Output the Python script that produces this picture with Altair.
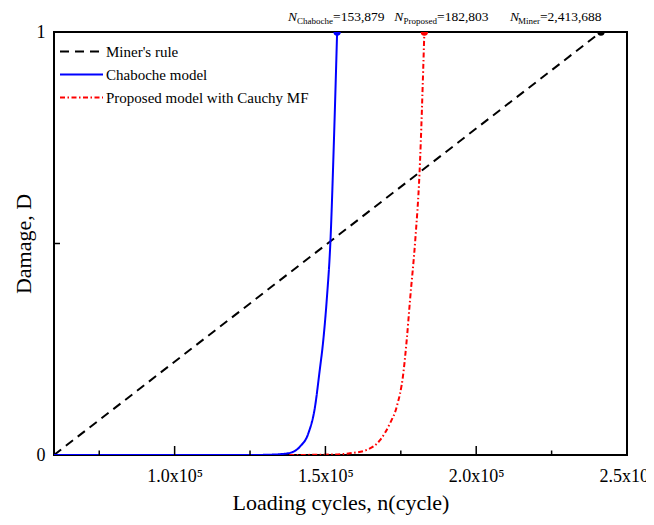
import altair as alt
import pandas as pd

# ---------------- data ----------------
x_domain = [60000, 250000]
series_names = ["Miner's rule", "Chaboche model", "Proposed model with Cauchy MF"]
series_colors = ["#000000", "#0000ff", "#ff0000"]
series_dash = [[9, 6], [1, 0], [5, 2.5, 1.5, 2.5]]

miner_n = [60000, 241368.8]
miner_d = [0.0, 1.0]

chaboche_n = [60000, 125000, 132600, 135000, 138260, 141570, 144330, 146550,
              147980, 149300, 150430, 151690, 152850, 153879]
chaboche_d = [0.0, 0.0, 0.001, 0.002, 0.005, 0.02, 0.051, 0.114,
              0.193, 0.272, 0.366, 0.51, 0.75, 1.0]

proposed_n = [138000, 151520, 158150, 163690, 168100, 171420, 173640,
              175830, 176960, 178050, 179810, 181200, 182803]
proposed_d = [0.0, 0.001, 0.004, 0.012, 0.035, 0.075, 0.114,
              0.193, 0.272, 0.366, 0.51, 0.666, 1.0]

fail_n = [241368.8, 153879, 182803]
fail_names = ["Miner's rule", "Chaboche model", "Proposed model with Cauchy MF"]
ann_sub = ["Miner", "Chaboche", "Proposed"]
ann_val = ["=2,413,688", "=153,879", "=182,803"]

x_label_ticks = [100000, 150000, 200000, 250000]
x_major_ticks = [100000, 150000, 200000]
x_minor_ticks = [75000, 125000, 175000, 225000]
y_label_ticks = [0, 1]
y_inner_ticks = [0.5]

X_TITLE = "Loading cycles, n(cycle)"
Y_TITLE = "Damage, D"

# ---------------- build tables ----------------
rows = []
for name, ns, ds in [(series_names[0], miner_n, miner_d),
                     (series_names[1], chaboche_n, chaboche_d),
                     (series_names[2], proposed_n, proposed_d)]:
    for i, (n, d) in enumerate(zip(ns, ds)):
        rows.append({"n": n, "D": d, "series": name, "idx": i})
df = pd.DataFrame(rows)
dots = pd.DataFrame({"n": fail_n, "D": [1.0] * 3, "series": fail_names})

W, H = 573, 423
FONT = "Liberation Serif"

xscale = alt.Scale(domain=x_domain, nice=False, zero=False)
yscale = alt.Scale(domain=[0, 1], nice=False, zero=False)

legend = alt.Legend(title=None, orient="none", legendX=5, legendY=9,
                    symbolType="stroke", symbolSize=1849, symbolStrokeWidth=2,
                    clipHeight=21, rowPadding=2,
                    labelFont=FONT, labelFontSize=15, labelColor="black",
                    labelOffset=2, labelLimit=400, padding=0)

lines = alt.Chart(df).mark_line(strokeWidth=2, clip=True, interpolate="monotone").encode(
    x=alt.X("n:Q", scale=xscale, title=X_TITLE,
            axis=alt.Axis(values=x_label_ticks,
                          labelExpr="format(datum.value/100000, '.1f') + 'x10⁵'")),
    y=alt.Y("D:Q", scale=yscale, title=Y_TITLE,
            axis=alt.Axis(values=y_label_ticks, format="d")),
    color=alt.Color("series:N",
                    scale=alt.Scale(domain=series_names, range=series_colors),
                    legend=legend),
    strokeDash=alt.StrokeDash("series:N",
                              scale=alt.Scale(domain=series_names, range=series_dash),
                              legend=legend),
    order="idx:Q",
)

points = alt.Chart(dots).mark_circle(size=55, opacity=1, clip=True).encode(
    x=alt.X("n:Q", scale=xscale, title=X_TITLE),
    y=alt.Y("D:Q", scale=yscale, title=Y_TITLE),
    color=alt.Color("series:N", scale=alt.Scale(domain=series_names, range=series_colors),
                    legend=legend),
)

major = alt.Chart(pd.DataFrame({"t": x_major_ticks})).mark_rule(
    color="black", strokeWidth=1.5).encode(
    x=alt.X("t:Q", scale=xscale, title=X_TITLE), y=alt.value(H), y2=alt.value(H - 9))
minor = alt.Chart(pd.DataFrame({"t": x_minor_ticks})).mark_rule(
    color="black", strokeWidth=1.5).encode(
    x=alt.X("t:Q", scale=xscale, title=X_TITLE), y=alt.value(H), y2=alt.value(H - 4.5))
ytick = alt.Chart(pd.DataFrame({"t": y_inner_ticks})).mark_rule(
    color="black", strokeWidth=1.5).encode(
    y=alt.Y("t:Q", scale=yscale, title=Y_TITLE), x=alt.value(0), x2=alt.value(6))

# annotation pieces: (value dx, N right-edge dx)
ann_offsets = {"Miner": (-61, -82), "Chaboche": (-4, -40), "Proposed": (12.7, -21)}
ann_layers = []
for n, sub, val in zip(fail_n, ann_sub, ann_val):
    dv, dn = ann_offsets[sub]
    base = alt.Chart(pd.DataFrame({"n": [n]}))
    xe = alt.X("n:Q", scale=xscale, title=X_TITLE)
    ann_layers.append(base.mark_text(align="left", baseline="alphabetic", dx=dv,
                                     font=FONT, fontSize=13.5, color="black").encode(
        x=xe, y=alt.value(-11), text=alt.value(val)))
    ann_layers.append(base.mark_text(align="right", baseline="alphabetic", dx=dv,
                                     font=FONT, fontSize=9, color="black").encode(
        x=xe, y=alt.value(-8), text=alt.value(sub)))
    ann_layers.append(base.mark_text(align="right", baseline="alphabetic", dx=dn,
                                     font=FONT, fontSize=13.5, fontStyle="italic",
                                     color="black").encode(
        x=xe, y=alt.value(-11), text=alt.value("N")))

chart = alt.layer(lines, points, major, minor, ytick, *ann_layers).properties(
    width=W, height=H,
    autosize=alt.AutoSizeParams(type="none"),
    padding={"left": 46, "top": 24, "right": 19, "bottom": 62},
).configure(background="white", font=FONT).configure_view(
    stroke="black", strokeWidth=2
).configure_axis(
    ticks=False, domain=False, grid=False, labelFont=FONT, labelFontSize=18,
    labelColor="black", labelFlush=False, titleFont=FONT, titleFontSize=22,
    titleFontWeight="normal", titleColor="black"
).configure_axisX(labelPadding=12, titlePadding=7).configure_axisY(
    labelPadding=9, titlePadding=1
).configure_legend(labelFont=FONT)

chart.save("out.html", embed_options={"renderer": "svg", "actions": False})
